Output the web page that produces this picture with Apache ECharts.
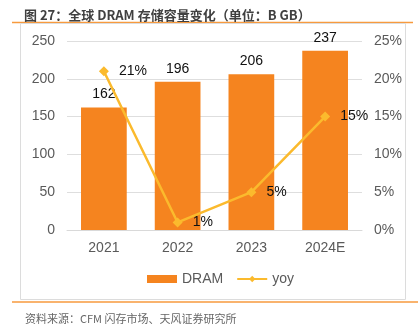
<!DOCTYPE html>
<html>
<head>
<meta charset="utf-8">
<script src="https://cdn.jsdelivr.net/npm/echarts@6/dist/echarts.min.js"></script>
<style>
  html, body { margin: 0; padding: 0; background: #fff; }
  #chart { width: 418px; height: 329px; }
</style>
</head>
<body>
<div id="chart"></div>
<script>
// DRAM capacity (B GB) and year-over-year growth
const categories = ['2021', '2022', '2023', '2024E'];
const dramValues = [162, 196, 206, 237];
const yoyValues = [21, 1, 5, 15];
const leftTicks = [0, 50, 100, 150, 200, 250];
const rightTicks = [0, 5, 10, 15, 20, 25];

const FONT = '"Liberation Sans", Arial, "Noto Sans CJK SC", sans-serif';
const CJK_FONT = '"Noto Sans CJK SC", sans-serif';
const BAR_COLOR = '#F5841F';
const LINE_COLOR = '#FBBA2D';
const TICK_COLOR = '#5a5a5a';

const chart = echarts.init(document.getElementById('chart'), null, { renderer: 'canvas' });

chart.setOption({
  animation: false,
  textStyle: { fontFamily: FONT },
  title: [
    {
      text: '图 27：全球 DRAM 存储容量变化（单位：B GB）',
      left: 19, top: 4,
      textStyle: { fontSize: 13, fontWeight: 'bold', color: '#404040', fontFamily: CJK_FONT }
    },
    {
      text: '资料来源：CFM 闪存市场、天风证券研究所',
      left: 20, top: 308,
      textStyle: { fontSize: 11, fontWeight: 'normal', color: '#666', fontFamily: CJK_FONT }
    }
  ],
  graphic: [
    { type: 'line', shape: { x1: 12, y1: 22.5, x2: 413, y2: 22.5 }, style: { stroke: '#F79A3E', lineWidth: 1.5 }, silent: true },
    { type: 'rect', shape: { x: 20.5, y: 23.5, width: 385, height: 276 }, style: { fill: 'none', stroke: '#dcdcdc', lineWidth: 1 }, silent: true },
    { type: 'line', shape: { x1: 12, y1: 302, x2: 418, y2: 302 }, style: { stroke: '#F79A3E', lineWidth: 1.5 }, silent: true }
  ],
  grid: { left: 67, right: 56, top: 41, bottom: 99 },
  legend: {
    bottom: 38,
    left: 142,
    itemGap: 13,
    itemWidth: 30,
    itemHeight: 8,
    textStyle: { fontSize: 14, color: TICK_COLOR, fontFamily: FONT },
    data: [
      { name: 'DRAM', icon: 'rect' },
      { name: 'yoy' }
    ]
  },
  xAxis: {
    type: 'category',
    data: categories,
    axisLine: { show: true, lineStyle: { color: '#d9d9d9' } },
    axisTick: { show: false },
    axisLabel: { fontSize: 14, color: TICK_COLOR, margin: 11, fontFamily: FONT }
  },
  yAxis: [
    {
      type: 'value',
      min: leftTicks[0],
      max: leftTicks[leftTicks.length - 1],
      interval: 50,
      axisLine: { show: false },
      axisTick: { show: false },
      splitLine: { lineStyle: { color: '#dedede' } },
      axisLabel: { fontSize: 14, color: TICK_COLOR, margin: 12, fontFamily: FONT }
    },
    {
      type: 'value',
      min: rightTicks[0],
      max: rightTicks[rightTicks.length - 1],
      interval: 5,
      axisLine: { show: false },
      axisTick: { show: false },
      splitLine: { show: false },
      axisLabel: { fontSize: 14, color: TICK_COLOR, margin: 12, formatter: '{value}%', fontFamily: FONT }
    }
  ],
  series: [
    {
      name: 'DRAM',
      type: 'bar',
      data: dramValues,
      barWidth: '62%',
      itemStyle: { color: BAR_COLOR },
      label: { show: true, position: 'top', distance: 6, fontSize: 14, color: '#111', fontFamily: FONT }
    },
    {
      name: 'yoy',
      type: 'line',
      yAxisIndex: 1,
      data: yoyValues,
      symbol: 'diamond',
      symbolSize: 10,
      lineStyle: { color: LINE_COLOR, width: 2.5 },
      itemStyle: { color: LINE_COLOR },
      label: { show: true, position: 'right', distance: 10, fontSize: 14, color: '#111', formatter: '{c}%', fontFamily: FONT }
    }
  ]
});
</script>
</body>
</html>
